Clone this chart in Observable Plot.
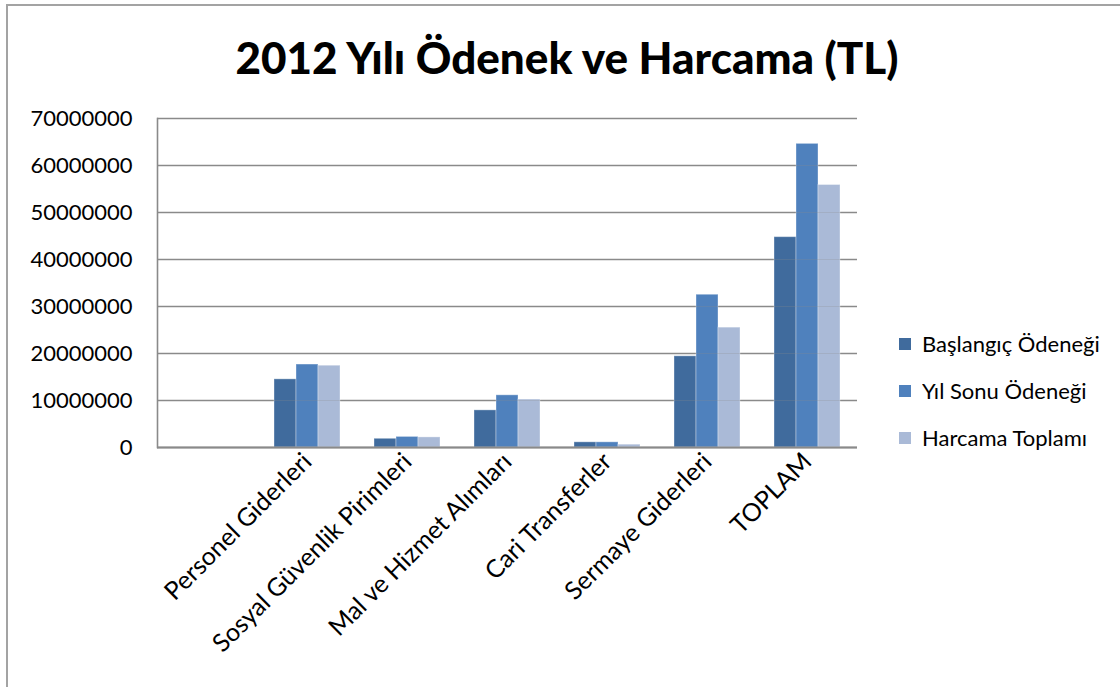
<!DOCTYPE html>
<html>
<head>
<meta charset="utf-8">
<script src="https://cdn.jsdelivr.net/npm/d3@7"></script>
<script src="https://cdn.jsdelivr.net/npm/@observablehq/plot@0.6"></script>
<style>
  html, body { margin: 0; padding: 0; background: #fff; overflow: hidden; }
  #page { position: relative; width: 1120px; height: 687px; overflow: hidden; font-family: Lato, "Open Sans", sans-serif; }
  #border { position: absolute; left: 6px; top: 4px; width: 3000px; height: 3000px; border-top: 2px solid #a3a3a3; border-left: 2px solid #a3a3a3; }
  #title { position: absolute; left: 14px; top: 32px; width: 1106px; height: 50px; line-height: 50px; text-align: center; font-weight: 900; font-size: 44px; color: #000; white-space: nowrap; }
  #chart { position: absolute; left: 0; top: 100px; }
  #legend { position: absolute; left: 899px; top: 330px; }
  #legend .lg-swatch { font-size: 22px; color: #000; margin: 0 0 19px 0 !important; font-family: Lato, sans-serif; }
</style>
</head>
<body>
<div id="page">
  <div id="border"></div>
  <div id="title"></div>
  <div id="chart"></div>
  <div id="legend"></div>
</div>
<script>
const titleText = "2012 Yılı Ödenek ve Harcama (TL)";
const categories = ["", "Personel Giderleri", "Sosyal Güvenlik Pirimleri", "Mal ve Hizmet Alımları", "Cari Transferler", "Sermaye Giderleri", "TOPLAM"];
const series = ["Başlangıç Ödeneği", "Yıl Sonu Ödeneği", "Harcama Toplamı"];
const seriesColors = ["#406B9D", "#4F81BD", "#AABAD7"];
// values per category (excluding the blank first category)
const baslangic = [14500000, 1850000, 7900000, 1100000, 19400000, 44750000];
const yilSonu   = [17650000, 2250000, 11100000, 1100000, 32500000, 64600000];
const harcama   = [17400000, 2150000, 10200000, 600000, 25500000, 55850000];
const yTicks = [0, 10000000, 20000000, 30000000, 40000000, 50000000, 60000000, 70000000];

document.getElementById("title").textContent = titleText;

const valueArrays = [baslangic, yilSonu, harcama];
const data = [];
categories.slice(1).forEach((c, i) => {
  series.forEach((s, j) => data.push({category: c, series: s, value: valueArrays[j][i]}));
});
const grid = categories.flatMap(c => yTicks.map(v => ({category: c, value: v})));

const chart = Plot.plot({
  width: 870,
  height: 587,
  marginTop: 18,
  marginBottom: 240,
  marginLeft: 157,
  marginRight: 13,
  style: {fontFamily: "Lato, sans-serif", background: "transparent", overflow: "visible"},
  fx: {domain: categories, paddingInner: 0, paddingOuter: 0, label: null},
  x: {domain: series, paddingInner: 0, paddingOuter: 0.74, axis: null},
  y: {domain: [0, 70000000], label: null},
  color: {domain: series, range: seriesColors},
  marks: [
    Plot.ruleY(grid, {fx: "category", y: "value", stroke: "#8a8a8a", strokeWidth: 1.6}),
    Plot.barY(data, {fx: "category", x: "series", y: "value", fill: "series", stroke: "#ffffff", strokeOpacity: 0.35, strokeWidth: 1}),
    Plot.ruleY(grid, {fx: "category", y: "value", stroke: "#8a8a8a", strokeWidth: 1.2, strokeOpacity: 0.25}),
    Plot.ruleY(categories.map(c => ({category: c, value: 0})), {fx: "category", y: "value", stroke: "#8a8a8a", strokeWidth: 2.2}),
    Plot.frame({anchor: "left", facetAnchor: "left", stroke: "#8a8a8a", strokeWidth: 1.6}),
    Plot.axisY({ticks: yTicks, tickSize: 0, tickPadding: 25, tickFormat: d3.format("d"), fontSize: 22, fill: "#000", label: null}),
    Plot.axisFx({anchor: "bottom", tickRotate: -45, tickSize: 0, tickPadding: 10, fontSize: 25, fill: "#000", label: null})
  ]
});
document.getElementById("chart").appendChild(chart);

const legend = Plot.legend({
  color: {domain: series, range: seriesColors},
  legend: "swatches",
  columns: 1,
  swatchSize: 12,
  className: "lg"
});
document.getElementById("legend").appendChild(legend);
</script>
</body>
</html>
